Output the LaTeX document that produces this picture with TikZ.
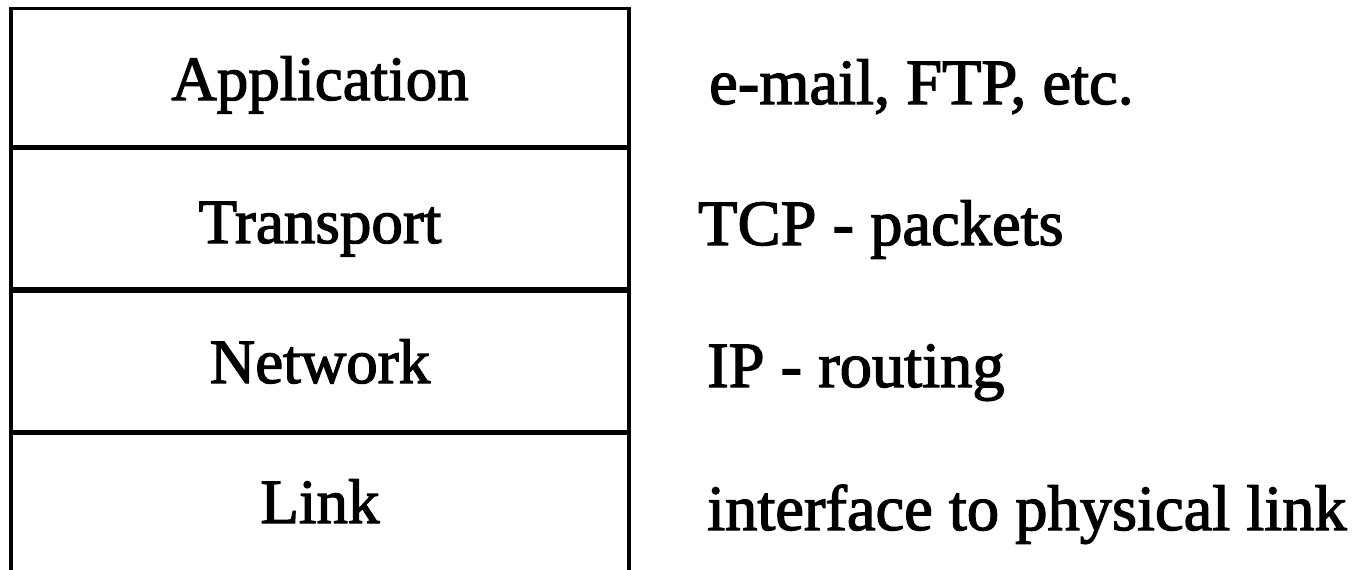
\documentclass[tikz,border=0pt]{standalone}
\usepackage{fontspec}
\setmainfont{Liberation Serif}[FakeBold=2]
\begin{document}
\begin{tikzpicture}[x=1pt,y=-1pt,
  layerlab/.style={inner sep=0pt, anchor=base, font=\fontsize{63}{63}\selectfont},
  desclab/.style={inner sep=0pt, anchor=base west, font=\fontsize{64.5}{64.5}\selectfont},
  frameline/.style={line width=4pt},
  divline/.style={line width=5.5pt}]
\useasboundingbox (0,0) rectangle (1360,570);
% frame
\draw[line width=3pt] (9,8) -- (631,8);
\draw[frameline] (11,6.5) -- (11,570);
\draw[frameline] (629,6.5) -- (629,570);
\foreach \yy in {147.5,290,432.5} \draw[divline] (11,\yy) -- (629,\yy);
% layer names
\node[layerlab] (app) at (320,100) {Application};
\node[layerlab] (tra) at (320,243) {Transport};
\node[layerlab] (net) at (320,383) {Network};
\node[layerlab] (lnk) at (320,523) {Link};
% descriptions
\node[desclab] (dapp) at (709,104) {e-mail, FTP, etc.};
\node[desclab] (dtra) at (698,245) {TCP - packets};
\node[desclab] (dnet) at (707,387) {IP - routing};
\node[desclab] (dlnk) at (707,530) {interface to physical link};
\end{tikzpicture}
\end{document}
